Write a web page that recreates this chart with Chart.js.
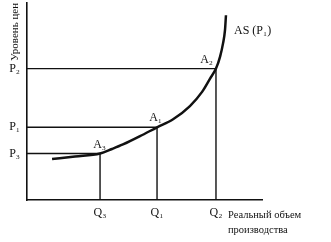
<!DOCTYPE html>
<html>
<head>
<meta charset="utf-8">
<script src="https://cdn.jsdelivr.net/npm/chart.js@4"></script>
<style>
html,body{margin:0;padding:0;background:#fff;}
#wrap{width:331px;height:242px;position:relative;}
</style>
</head>
<body>
<div id="wrap"><canvas id="c"></canvas></div>
<script>
const curveX = [1.28, 2.45, 3.73, 4.34, 4.90, 5.77, 6.64, 7.46, 8.32, 8.94, 9.34, 9.65, 9.86, 10.01, 10.11, 10.16];
const curveY = [2.08, 2.21, 2.36, 2.59, 2.82, 3.24, 3.69, 4.10, 4.77, 5.49, 6.15, 6.67, 7.28, 7.95, 8.62, 9.38];
// equilibrium points A3, A1, A2
const pointNames = ['A₃', 'A₁', 'A₂'];
const qValues = [3.73, 6.64, 9.65];
const pValues = [2.36, 3.69, 6.67];
const qLabels = ['Q₃', 'Q₁', 'Q₂'];
const pLabels = ['P₃', 'P₁', 'P₂'];
const curveName = 'AS (P₁)';
const xTitle = ['Реальный объем', 'производства'];
const yTitle = 'Уровень цен';

const serif = '"Liberation Serif", "DejaVu Serif", serif';

const datasets = [{
  label: curveName,
  data: curveX.map((x, i) => ({x, y: curveY[i]})),
  borderColor: '#111',
  borderWidth: 2.5,
  pointRadius: 0,
  cubicInterpolationMode: 'monotone',
  fill: false
}];
qValues.forEach((q, i) => {
  datasets.push({
    label: pointNames[i] + ' guides',
    data: [{x: 0, y: pValues[i]}, {x: q, y: pValues[i]}, {x: q, y: 0}],
    borderColor: '#111',
    borderWidth: 1.4,
    pointRadius: 0,
    tension: 0,
    fill: false
  });
});

const labelShift = [6, 5, -3];

const textPlugin = {
  id: 'texts',
  afterDraw(chart) {
    const ctx = chart.ctx, xs = chart.scales.x, ys = chart.scales.y;
    ctx.save();
    ctx.fillStyle = '#111';
    ctx.textBaseline = 'alphabetic';
    // point labels
    ctx.font = '12px ' + serif;
    ctx.textAlign = 'right';
    qValues.forEach((q, i) => {
      ctx.fillText(pointNames[i], xs.getPixelForValue(q) + labelShift[i], ys.getPixelForValue(pValues[i]) - 6);
    });
    // curve label
    ctx.textAlign = 'left';
    ctx.font = '12px ' + serif;
    const n = curveX.length - 1;
    ctx.fillText(curveName, xs.getPixelForValue(curveX[n]) + 8, ys.getPixelForValue(curveY[n]) + 19);
    // x-axis title
    ctx.font = '10.5px ' + serif;
    ctx.fillText(xTitle[0], xs.getPixelForValue(qValues[2]) + 12, ys.bottom + 18);
    ctx.fillText(xTitle[1], xs.getPixelForValue(qValues[2]) + 12, ys.bottom + 33);
    // y-axis title (rotated)
    ctx.font = '11px ' + serif;
    ctx.translate(xs.left - 9, ys.top + 58);
    ctx.rotate(-Math.PI / 2);
    ctx.textAlign = 'left';
    ctx.fillText(yTitle, 0, 0);
    ctx.restore();
  }
};

new Chart(document.getElementById('c'), {
  type: 'line',
  data: {datasets},
  options: {
    responsive: true,
    maintainAspectRatio: false,
    animation: false,
    layout: {padding: {top: 3, right: 69, left: 0, bottom: 0}},
    plugins: {legend: {display: false}, tooltip: {enabled: false}},
    scales: {
      x: {
        type: 'linear', min: 0, max: 12,
        grid: {display: false, drawTicks: false},
        border: {display: true, color: '#111', width: 1.6},
        afterBuildTicks(s) { s.ticks = qValues.map(v => ({value: v})); },
        afterFit(s) { s.height = 42; s.paddingLeft = 0; s.paddingRight = 0; },
        ticks: {
          padding: 6, color: '#111', maxRotation: 0, autoSkip: false,
          font: {family: serif, size: 12},
          callback(v) { const i = qValues.indexOf(v); return i >= 0 ? qLabels[i] : ''; }
        }
      },
      y: {
        type: 'linear', min: 0, max: 10,
        grid: {display: false, drawTicks: false},
        border: {display: true, color: '#111', width: 1.6},
        afterBuildTicks(s) { s.ticks = pValues.map(v => ({value: v})); },
        afterFit(s) { s.width = 27; s.paddingTop = 0; s.paddingBottom = 0; },
        ticks: {
          padding: 7, color: '#111', autoSkip: false,
          font: {family: serif, size: 12},
          callback(v) { const i = pValues.indexOf(v); return i >= 0 ? pLabels[i] : ''; }
        }
      }
    }
  },
  plugins: [textPlugin]
});
</script>
</body>
</html>
